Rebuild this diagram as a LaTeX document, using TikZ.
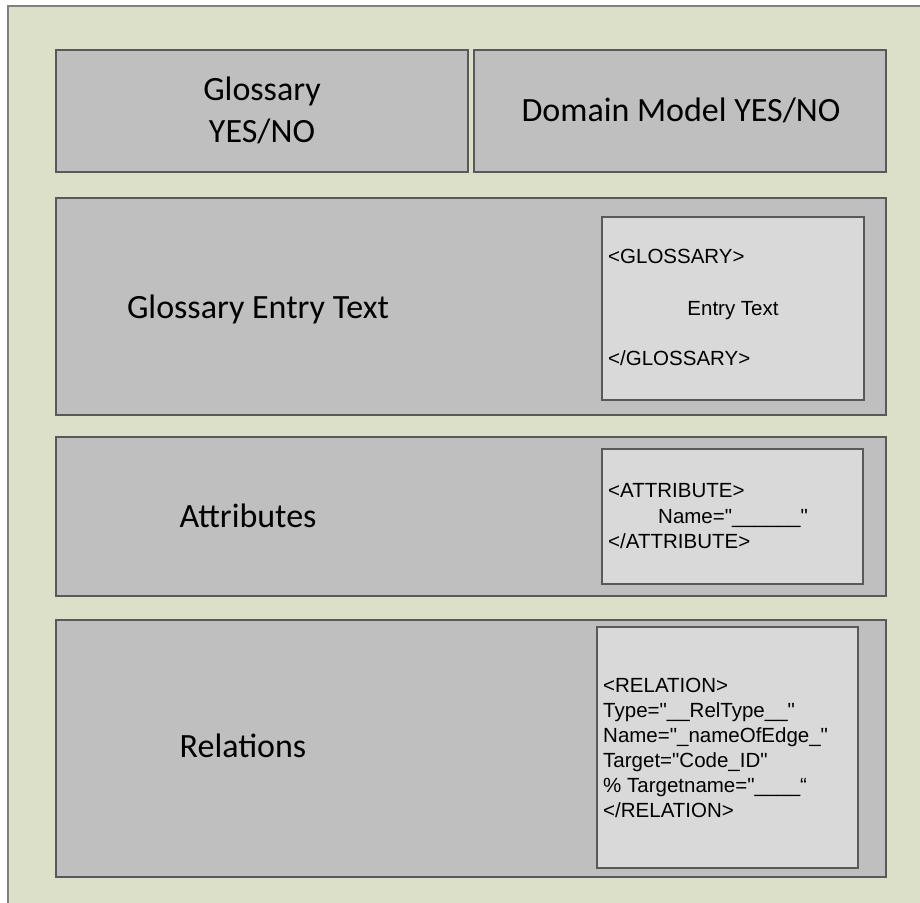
\documentclass[tikz,border=0pt]{standalone}
\usepackage{fontspec}
\setmainfont{Carlito}
\newfontfamily\codefont{Liberation Sans}
\definecolor{frameBg}{RGB}{221,224,201}
\definecolor{frameLine}{RGB}{128,128,128}
\definecolor{panelBg}{RGB}{191,191,191}
\definecolor{cardBg}{RGB}{217,217,217}
\definecolor{edgeLine}{RGB}{89,89,89}
\begin{document}
\begin{tikzpicture}[x=1pt,y=-1pt,
  panel/.style={draw=edgeLine,fill=panelBg,line width=1.4pt},
  card/.style={draw=edgeLine,fill=cardBg,line width=1.2pt},
  bigtext/.style={font=\fontsize{34}{42}\selectfont,anchor=base,inner sep=0pt},
  codetext/.style={font=\codefont\fontsize{20.5}{24.7}\selectfont,anchor=base west,inner sep=0pt}]
  % page area and the cream outer frame
  \useasboundingbox (0,0) rectangle (920,902);
  \fill[white] (0,0) rectangle (920,902);
  \begin{scope}
    \clip (0,0) rectangle (920,902);
    \draw[frameLine,fill=frameBg,line width=1.2pt] (8,6) rectangle (930,915);
  \end{scope}

  % header panels
  \draw[panel] (56,50) rectangle (468,172);
  \draw[panel] (474,50) rectangle (886,172);
  \node[bigtext] (glossaryA) at (262,100) {Glossary};
  \node[bigtext] (glossaryB) at (262,142) {YES/NO};
  \node[bigtext] (domainYN) at (681,121) {Domain Model YES/NO};

  % glossary entry panel
  \draw[panel] (56,198) rectangle (886,415);
  \draw[card] (602,217) rectangle (864,400);
  \node[bigtext] (entryLabel) at (258,318) {Glossary Entry Text};
  \node[codetext] (gOpen) at (608,263) {<GLOSSARY>};
  \node[codetext,anchor=base] (gBody) at (733,315) {Entry Text};
  \node[codetext] (gClose) at (608,365) {</GLOSSARY>};

  % attributes panel
  \draw[panel] (56,437) rectangle (886,596);
  \draw[card] (602,449) rectangle (863,584);
  \node[bigtext] (attrLabel) at (248,527) {Attributes};
  \node[codetext] (aOpen) at (608,497) {<ATTRIBUTE>};
  \node[codetext] (aName) at (658,523) {Name="\_\_\_\_\_\_"};
  \node[codetext] (aClose) at (608,548) {</ATTRIBUTE>};

  % relations panel
  \draw[panel] (56,620) rectangle (886,877);
  \draw[card] (597,627) rectangle (858,868);
  \node[bigtext] (relLabel) at (243,757) {Relations};
  \node[codetext] (rOpen)   at (603,692) {<RELATION>};
  \node[codetext] (rType)   at (603,717) {Type="\_\_RelType\_\_"};
  \node[codetext] (rName)   at (603,742) {Name="\_nameOfEdge\_"};
  \node[codetext] (rTarget) at (603,767) {Target="Code\_ID"};
  \node[codetext] (rTName)  at (603,792) {\% Targetname="\_\_\_\_“};
  \node[codetext] (rClose)  at (603,817) {</RELATION>};
\end{tikzpicture}
\end{document}
